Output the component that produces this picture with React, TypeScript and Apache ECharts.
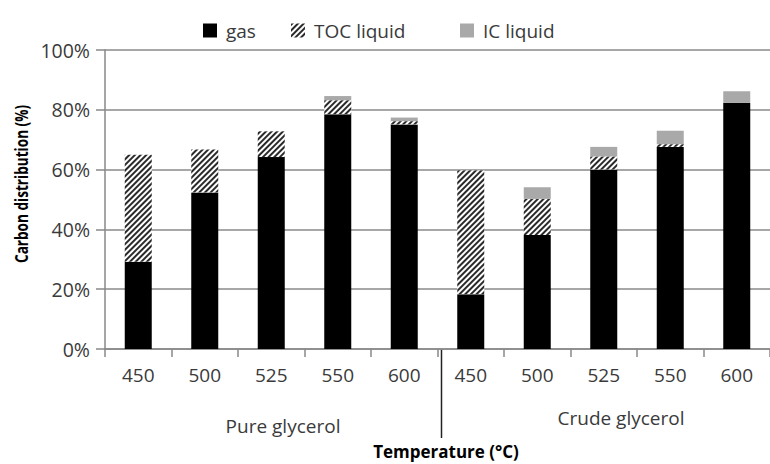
import React, { useEffect, useRef } from "react";
import * as echarts from "echarts";

const categories = ["450", "500", "525", "550", "600", "450", "500", "525", "550", "600"];
const gas = [29.2, 52.3, 64.2, 78.5, 75.1, 18.3, 38.1, 60.0, 67.6, 82.3];
const tocLiquid = [35.8, 14.4, 8.6, 4.7, 1.1, 41.5, 12.1, 4.4, 0.9, 0];
const icLiquid = [0, 0, 0, 1.4, 1.2, 0.4, 3.9, 3.2, 4.5, 3.9];
const yTicks = [0, 20, 40, 60, 80, 100];
const groupLabels = ["Pure glycerol", "Crude glycerol"];

const FONT = "'Open Sans', sans-serif";

export default function App() {
  const ref = useRef<HTMLDivElement>(null);
  useEffect(() => {
    if (!ref.current) return;
    const chart = echarts.init(ref.current, undefined, { renderer: "svg" });
    const gridLeft = 105;
    const gridTop = 50;
    const gridWidth = 673;
    const gridHeight = 299;
    const catW = gridWidth / categories.length;
    const sepX = gridLeft + catW * 5;
    const axisY = gridTop + gridHeight;
    const labelColor = "#3a3a3a";
    const mkLegend = (name: string, left: number) => ({
      data: [{ name, icon: "rect" }],
      left,
      top: 16,
      itemWidth: 14,
      itemHeight: 14,
      textStyle: { fontFamily: FONT, fontSize: 19, color: labelColor, padding: [0, 0, 0, 4] },
      selectedMode: false,
    });
    chart.setOption({
      animation: false,
      backgroundColor: "#fff",
      legend: [mkLegend("gas", 198), mkLegend("TOC liquid", 286), mkLegend("IC liquid", 455)],
      grid: { left: gridLeft, top: gridTop, width: gridWidth, height: gridHeight },
      xAxis: {
        type: "category",
        data: categories,
        boundaryGap: true,
        axisLine: { lineStyle: { color: "#888", width: 1.5 } },
        axisTick: { show: true, length: 8, lineStyle: { color: "#888", width: 1.5 } },
        axisLabel: { fontFamily: FONT, fontSize: 19, color: labelColor, margin: 16, interval: 0 },
      },
      yAxis: {
        type: "value",
        min: yTicks[0],
        max: yTicks[yTicks.length - 1],
        interval: 20,
        axisLine: { show: true, lineStyle: { color: "#888", width: 1.5 } },
        axisTick: { show: true, length: 9, lineStyle: { color: "#888", width: 1.5 } },
        axisLabel: {
          fontFamily: FONT,
          fontSize: 19.5,
          color: labelColor,
          margin: 15,
          formatter: (v: number) => v + "%",
        },
        splitLine: { show: true, lineStyle: { color: "#8a8a8a", width: 1.5 } },
      },
      series: [
        {
          name: "gas",
          type: "bar",
          stack: "total",
          barWidth: 27,
          data: gas,
          itemStyle: { color: "#000" },
        },
        {
          name: "TOC liquid",
          type: "bar",
          stack: "total",
          barWidth: 27,
          data: tocLiquid,
          itemStyle: {
            color: "#fff",
            decal: {
              symbol: "rect",
              symbolSize: 1,
              dashArrayX: [1, 0],
              dashArrayY: [2, 2],
              rotation: -Math.PI / 4,
              color: "#2a2a2a",
              backgroundColor: "#fff",
            },
          },
        },
        {
          name: "IC liquid",
          type: "bar",
          stack: "total",
          barWidth: 27,
          data: icLiquid,
          itemStyle: { color: "#a9a9a9" },
        },
      ],
      graphic: [
        {
          type: "line",
          shape: { x1: sepX, y1: axisY, x2: sepX, y2: 438 },
          style: { stroke: "#222", lineWidth: 1.5 },
        },
        {
          type: "text",
          x: 22,
          y: 184,
          rotation: Math.PI / 2,
          scaleX: 0.8,
          style: {
            text: "Carbon distribution (%)",
            font: `bold 17px ${FONT}`,
            fill: "#000",
            textAlign: "center",
            textVerticalAlign: "middle",
          },
        },
        {
          type: "text",
          x: 283,
          y: 426,
          style: {
            text: groupLabels[0],
            font: `19px ${FONT}`,
            fill: labelColor,
            textAlign: "center",
            textVerticalAlign: "middle",
          },
        },
        {
          type: "text",
          x: 621,
          y: 418,
          style: {
            text: groupLabels[1],
            font: `19px ${FONT}`,
            fill: labelColor,
            textAlign: "center",
            textVerticalAlign: "middle",
          },
        },
        {
          type: "text",
          x: 446,
          y: 451,
          style: {
            text: "Temperature (°C)",
            font: `bold 17px ${FONT}`,
            fill: "#000",
            textAlign: "center",
            textVerticalAlign: "middle",
          },
        },
      ],
    });
    return () => chart.dispose();
  }, []);
  return (
    <div
      ref={ref}
      style={{ position: "absolute", left: 0, top: 0, width: 770, height: 464 }}
    />
  );
}
